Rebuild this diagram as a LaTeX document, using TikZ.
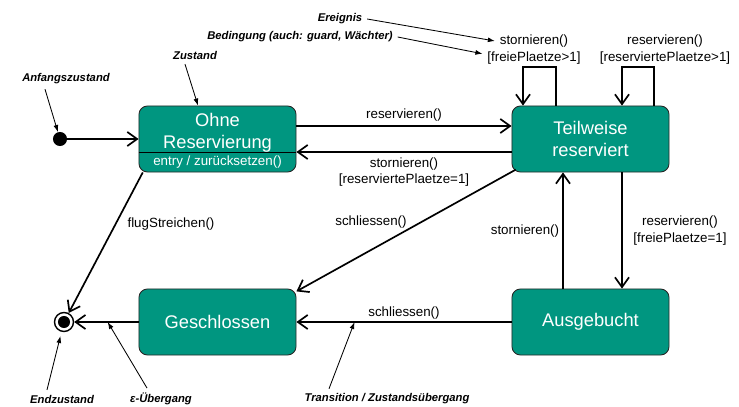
\documentclass[tikz,border=0pt]{standalone}
\usepackage{fontspec}
\setmainfont{Liberation Sans}
\usepackage{tikz}
\usetikzlibrary{positioning}
\usetikzlibrary{arrows.meta}
\definecolor{stategreen}{RGB}{0,150,128}
\definecolor{stateline}{RGB}{40,40,40}
\tikzset{
    mystate/.style = {rectangle, rounded corners=6pt, draw=stateline, line width=0.6pt, fill=stategreen, minimum width=3.925cm, minimum height=1.65cm},
    mytext/.style = {text=white, align=center, font=\fontsize{13}{15.6}\selectfont},
    myentry/.style = {text=white, font=\fontsize{9.5}{11}\selectfont},
    myinit/.style = {circle, fill=black, minimum size=10pt, inner sep=0pt},
    myfinal/.style = {circle, draw=black, line width=1pt, fill=white, minimum size=13.5pt, inner sep=0pt,
        path picture={\fill[black] (path picture bounding box.center) circle (4.3pt);}},
    trlabel/.style = {align=center, font=\fontsize{9.5}{12}\selectfont},
    notelabel/.style = {font=\fontsize{8}{10}\selectfont\bfseries\itshape},
    edgen/.style = {-{Straight Barb[length=7pt,width=10pt]}, line width=1.2pt}, % transition
    edgenote/.style = {-{Latex[length=5pt,width=3.5pt]}, line width=0.6pt}, % annotation
}

\begin{document}
\begin{tikzpicture}[x=0.025cm,y=-0.025cm]
\useasboundingbox (0,0) rectangle (739,407);
%
\node[myinit] at (60,139) (init) {};
\node[myfinal] at (64,322) (final) {};
\node[mystate] at (217.5,139) (ohne) {};
\node[mytext] at (217.5,133) (ohnetxt) {Ohne\\Reservierung};
\node[myentry] at (217.5,162) (entrytxt) {entry / zurücksetzen()};
\draw[black, line width=0.7pt] (ohne.west |- 0,152) -- (ohne.east |- 0,152);
\node[mystate, mytext] at (590.5,139) (teil) {Teilweise\\reserviert};
\node[mystate, mytext] at (217.5,322) (gesch) {Geschlossen};
\node[mystate, mytext] at (590.5,322) (ausg) {Ausgebucht};
%
\draw[edgen] (init) -- (ohne);
\draw[edgen] (ohne.east |- 0,126) -- (teil.west |- 0,126);
\node[trlabel] at (404,115) (lres) {reservieren()};
\draw[edgen] (teil.west |- 0,152) -- (ohne.east |- 0,152);
\node[trlabel] at (404,172) (lsto) {stornieren()\\{[reserviertePlaetze=1]}};
%
\draw[edgen] (teil.north -| 556,0) |- (523,67) -- (teil.north -| 523,0);
\node[trlabel] at (534,41) (lev) {stornieren()};
\node[trlabel] at (534,58) (lgd) {[freiePlaetze>1]};
\draw[edgen] (teil.north -| 654,0) |- (622,67) -- (teil.north -| 622,0);
\node[trlabel] at (665,49.5) (lres2) {reservieren()\\{[reserviertePlaetze>1]}};
%
\draw[edgen] (teil.south -| 622,0) -- (ausg.north -| 622,0);
\node[trlabel] at (680,230.5) (lres3) {reservieren()\\{[freiePlaetze=1]}};
\draw[edgen] (ausg.north -| 563,0) -- (teil.south -| 563,0);
\node[trlabel] at (525,231) (lsto2) {stornieren()};
%
\draw[edgen] ([xshift=3pt,yshift=2pt]teil.south west) -- ([yshift=-2pt]gesch.north east);
\node[trlabel] at (371,222) (lschl) {schliessen()};
\draw[edgen] (ausg) -- coordinate[pos=0.73] (trpt) (gesch);
\node[trlabel] at (404,313) (lschl2) {schliessen()};
\draw[edgen] (gesch) -- coordinate[pos=0.48] (epspt) (final);
\draw[edgen] ([xshift=3pt]ohne.south west) -- (final);
\node[trlabel] at (171,224) (lflug) {flugStreichen()};
%
\node[notelabel] at (66,79) (anf) {Anfangszustand};
\node[notelabel] at (195,55) (zust) {Zustand};
\node[notelabel] at (340,19) (ereig) {Ereignis};
\node[notelabel] at (300,37) (beding) {Bedingung (auch: guard, Wächter)};
\node[notelabel] at (62,399) (endz) {Endzustand};
\node[notelabel] at (161,399) (epsl) {ε-Übergang};
\node[notelabel] at (387,399) (trl) {Transition / Zustandsübergang};
%
\draw[edgenote] (anf.south -| 45,0) -- (init);
\draw[edgenote] (zust.south -| 185,0) -- (ohne.north -| 198,0);
\draw[edgenote] (ereig.east) -- (lev.west);
\draw[edgenote] (beding.east) -- ([yshift=3pt]lgd.west);
\draw[edgenote, shorten >=3pt] (endz.north -| 47,0) -- (final);
\draw[edgenote] (epsl.north -| 147,0) -- (epspt);
\draw[edgenote] (trl.north -| 329,0) -- (trpt);

\end{tikzpicture}
\end{document}
